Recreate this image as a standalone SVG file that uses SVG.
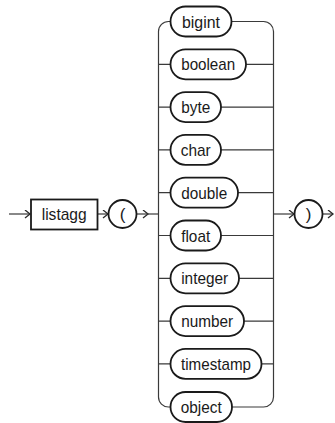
<svg xmlns="http://www.w3.org/2000/svg" width="335" height="423" viewBox="0 0 335 423">
<style>
.ln{fill:none;stroke:#3a3a3a;stroke-width:1.2}
.sh{fill:#fff;stroke:#1a1a1a;stroke-width:1.8}
.tx{font-family:"Liberation Sans",Arial,sans-serif;font-size:17px;fill:#1a1a1a;text-anchor:middle}
</style>
<defs>
<marker id="ar" markerUnits="userSpaceOnUse" markerWidth="8" markerHeight="10" refX="6" refY="4.5" orient="auto">
<path d="M1,0.5 L6,4.5 L1,8.5" fill="none" stroke="#2a2a2a" stroke-width="1.3"/>
</marker>
</defs>
<rect width="335" height="423" fill="#fff"/>
<g id="connectors">
<path class="ln" d="M9,214 H30" marker-end="url(#ar)"/>
<path class="ln" d="M97.5,214 H108" marker-end="url(#ar)"/>
<path class="ln" d="M136.5,214 H148" marker-end="url(#ar)"/>
<path class="ln" d="M147,214 H158.5"/>
<path class="ln" d="M170,21.5 H168.5 A10,10 0 0 0 158.5,31.5 V397 A10,10 0 0 0 168.5,407 H170"/>
<path class="ln" d="M231.5,21.5 H263.5 A10,10 0 0 1 273.5,31.5 V397 A10,10 0 0 1 263.5,407 H232"/>
<path class="ln" d="M158.5,64.3 H170 M246,64.3 H273.5"/>
<path class="ln" d="M158.5,107.1 H170 M221,107.1 H273.5"/>
<path class="ln" d="M158.5,149.9 H170 M221,149.9 H273.5"/>
<path class="ln" d="M158.5,192.7 H170 M238,192.7 H273.5"/>
<path class="ln" d="M158.5,235.5 H170 M221,235.5 H273.5"/>
<path class="ln" d="M158.5,278.3 H170 M239,278.3 H273.5"/>
<path class="ln" d="M158.5,321.1 H170 M244,321.1 H273.5"/>
<path class="ln" d="M158.5,363.9 H170 M261.5,363.9 H273.5"/>
<path class="ln" d="M273.5,214 H294" marker-end="url(#ar)"/>
<path class="ln" d="M322.5,214 H333" marker-end="url(#ar)"/>
</g>
<g id="listagg"><rect class="sh" x="31" y="199.5" width="66.5" height="30" /><text class="tx" x="64.2" y="220" textLength="45" lengthAdjust="spacingAndGlyphs">listagg</text></g>
<g id="lparen"><circle class="sh" cx="122.5" cy="214" r="14"/><text class="tx" x="122.5" y="220">(</text></g>
<g id="rparen"><circle class="sh" cx="308.5" cy="214" r="14"/><text class="tx" x="308.5" y="220">)</text></g>
<g id="bigint"><rect class="sh" x="170.5" y="6.5" width="61" height="30" rx="15"/><text class="tx" x="201" y="27.5" textLength="38" lengthAdjust="spacingAndGlyphs">bigint</text></g>
<g id="boolean"><rect class="sh" x="170.5" y="49.3" width="75.5" height="30" rx="15"/><text class="tx" x="208.2" y="70.3" textLength="54" lengthAdjust="spacingAndGlyphs">boolean</text></g>
<g id="byte"><rect class="sh" x="170.5" y="92.1" width="50.5" height="30" rx="15"/><text class="tx" x="195.7" y="113.1" textLength="29" lengthAdjust="spacingAndGlyphs">byte</text></g>
<g id="char"><rect class="sh" x="170.5" y="134.9" width="50.5" height="30" rx="15"/><text class="tx" x="195.7" y="155.9" textLength="30" lengthAdjust="spacingAndGlyphs">char</text></g>
<g id="double"><rect class="sh" x="170.5" y="177.7" width="67.5" height="30" rx="15"/><text class="tx" x="204.2" y="198.7" textLength="46" lengthAdjust="spacingAndGlyphs">double</text></g>
<g id="float"><rect class="sh" x="170.5" y="220.5" width="50.5" height="30" rx="15"/><text class="tx" x="195.7" y="241.5" textLength="29" lengthAdjust="spacingAndGlyphs">float</text></g>
<g id="integer"><rect class="sh" x="170.5" y="263.3" width="68.5" height="30" rx="15"/><text class="tx" x="204.7" y="284.3" textLength="47" lengthAdjust="spacingAndGlyphs">integer</text></g>
<g id="number"><rect class="sh" x="170.5" y="306.1" width="73.5" height="30" rx="15"/><text class="tx" x="207.2" y="327.1" textLength="52" lengthAdjust="spacingAndGlyphs">number</text></g>
<g id="timestamp"><rect class="sh" x="170.5" y="348.9" width="91" height="30" rx="15"/><text class="tx" x="216" y="369.9" textLength="70" lengthAdjust="spacingAndGlyphs">timestamp</text></g>
<g id="object"><rect class="sh" x="170.5" y="392" width="61.5" height="30" rx="15"/><text class="tx" x="201.2" y="413" textLength="41" lengthAdjust="spacingAndGlyphs">object</text></g>
</svg>
